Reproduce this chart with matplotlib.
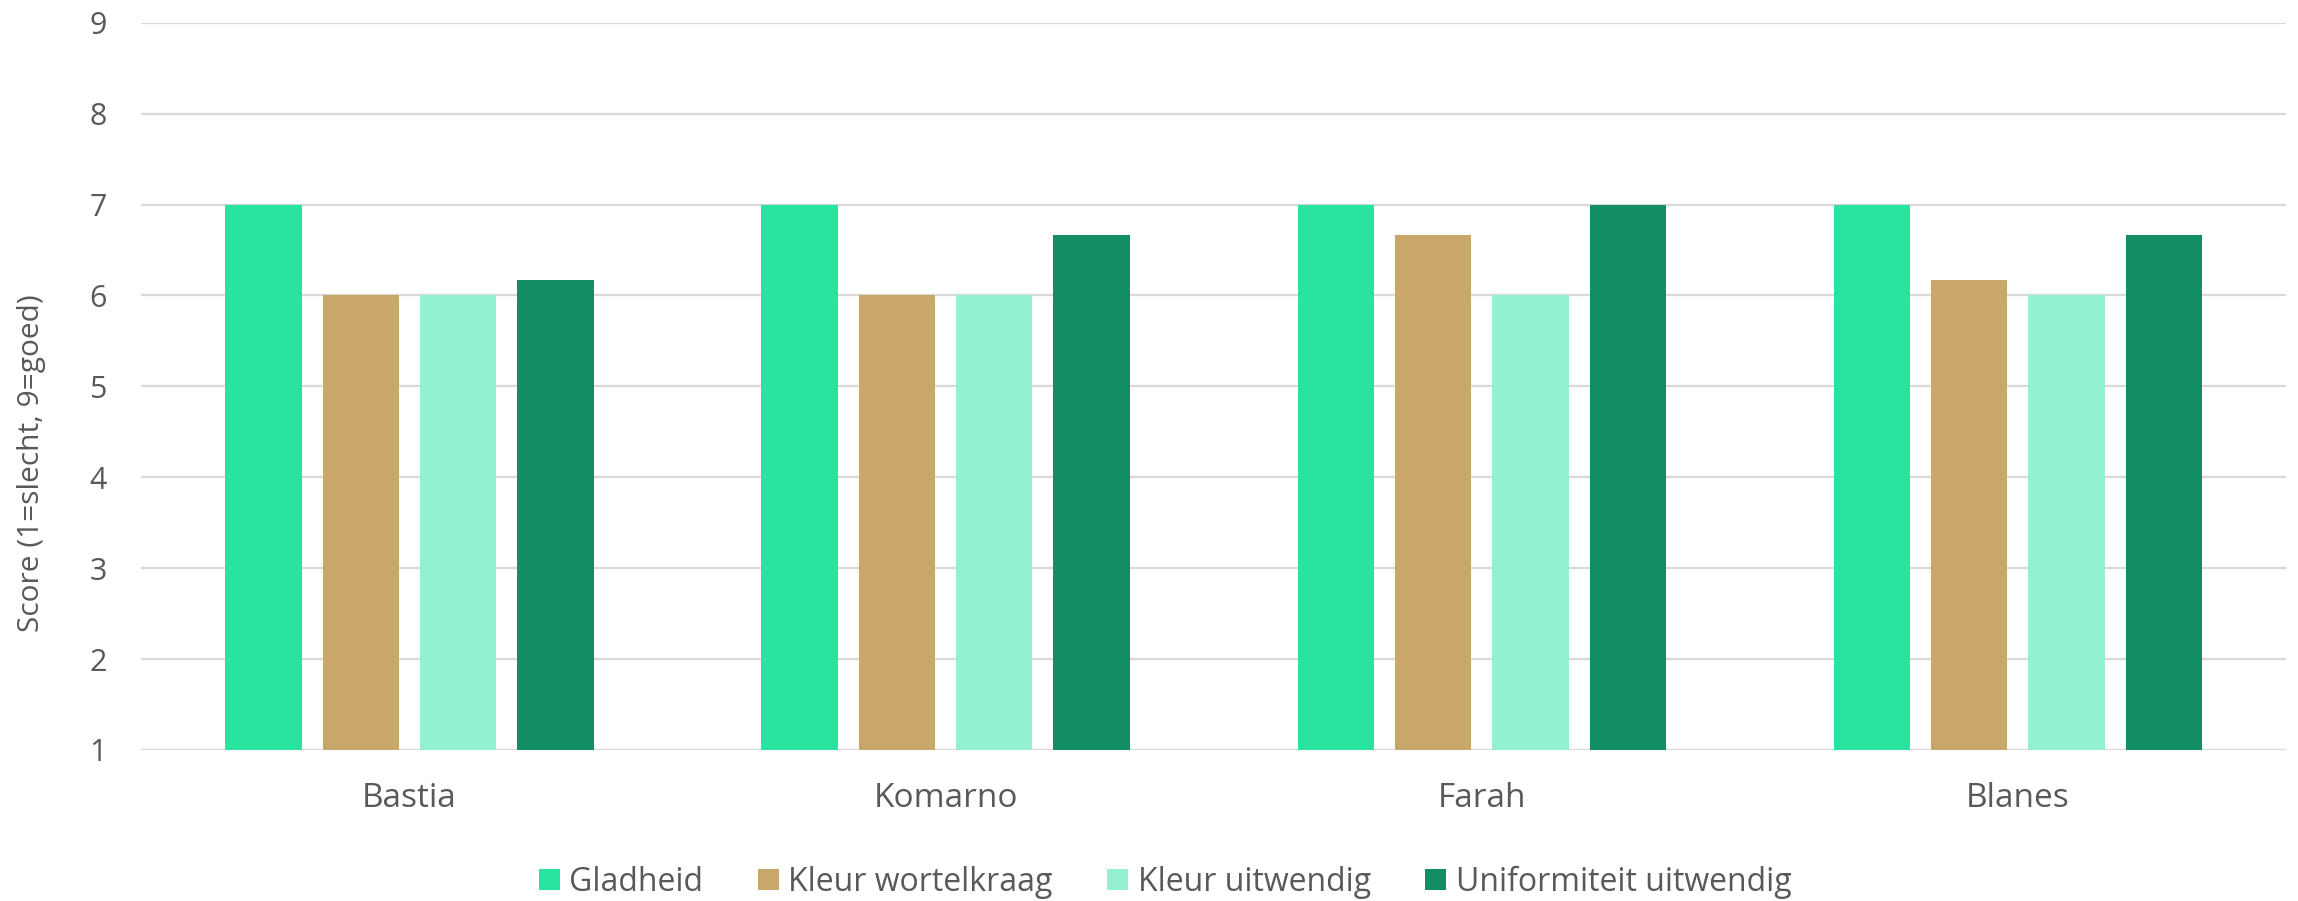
import matplotlib.pyplot as plt
import numpy as np

# data
rassen = ['Bastia', 'Komarno', 'Farah', 'Blanes']
kenmerken = ['Gladheid', 'Kleur wortelkraag', 'Kleur uitwendig', 'Uniformiteit uitwendig']
gladheid = [7, 7, 7, 7]
kleur_wortelkraag = [6, 6, 6.67, 6.17]
kleur_uitwendig = [6, 6, 6, 6]
uniformiteit_uitwendig = [6.17, 6.67, 7, 6.67]
kleuren = ['#29e3a1', '#c9a66a', '#93f0d1', '#138e63']

series = [gladheid, kleur_wortelkraag, kleur_uitwendig, uniformiteit_uitwendig]

plt.rcParams['font.family'] = ['Open Sans', 'DejaVu Sans']
tekst = '#595959'

fig = plt.figure(figsize=(22.98, 9.01), dpi=100)
ax = fig.add_axes([0.0615, 0.1676, 0.9333, 0.8072])

x = np.arange(len(rassen))
breedte = 0.1423
stap = 0.1815
for i, (waarden, kleur, naam) in enumerate(zip(series, kleuren, kenmerken)):
    ax.bar(x + (i - 1.5) * stap, np.array(waarden) - 1, bottom=1, width=breedte,
           color=kleur, label=naam, zorder=3)

ax.set_xlim(-0.5, len(rassen) - 0.5)
ax.set_ylim(1, 9)
ax.set_yticks(range(1, 10))
ax.set_xticks(x)
ax.set_xticklabels(rassen)
ax.grid(axis='y', color='#d9d9d9', linewidth=1.6, zorder=0)
for s in ax.spines.values():
    s.set_visible(False)
ax.tick_params(axis='both', length=0, colors=tekst)
ax.tick_params(axis='y', pad=25, labelsize=22)
ax.tick_params(axis='x', pad=23, labelsize=24)

fig.text(0.0135, 0.486, 'Score (1=slecht, 9=goed)', rotation=90, color=tekst,
         fontsize=21.5, ha='center', va='center')

leg = fig.legend(loc='center', bbox_to_anchor=(0.507, 0.021), ncol=4, frameon=False,
                 fontsize=23, handlelength=0.66, handleheight=0.66, handletextpad=0.3,
                 columnspacing=1.7)
for t in leg.get_texts():
    t.set_color(tekst)

fig.savefig('out.png', dpi=100)
